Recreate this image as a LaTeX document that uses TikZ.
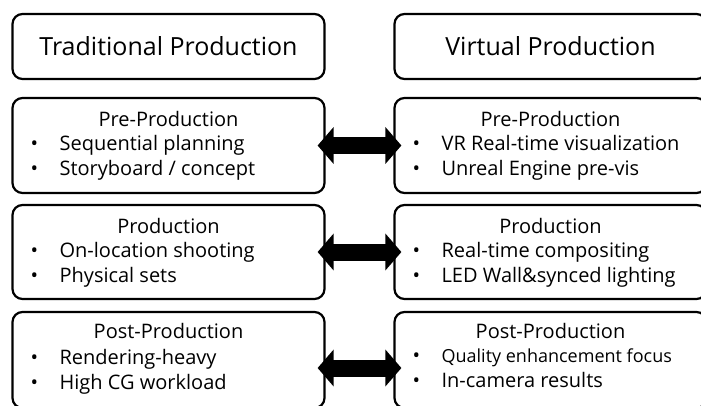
\documentclass[tikz,border=0pt]{standalone}
\usepackage{fontspec}
\setmainfont{Open Sans}
\usetikzlibrary{arrows.meta,positioning,calc}

\begin{document}
\begin{tikzpicture}[x=1pt, y=-1pt,
  box/.style={draw, line width=2.2pt, rounded corners=10pt, minimum width=312pt, inner sep=0pt},
  titletext/.style={font=\fontsize{25}{30}\selectfont},
  head/.style={anchor=base, inner sep=0pt, font=\fontsize{20}{24}\selectfont},
  item/.style={anchor=base west, inner sep=0pt, font=\fontsize{20}{24}\selectfont},
  dot/.style={anchor=base, inner sep=0pt, font=\fontsize{20}{24}\selectfont},
  dblarrow/.style={line width=17pt, {Triangle[width=36pt, length=16pt]}-{Triangle[width=36pt, length=16pt]},
    shorten <=-8pt, shorten >=-8pt}]
  \useasboundingbox (0,0) rectangle (701,405);
  % Titres
  \node[box, minimum height=65pt, titletext] (title-t) at (168.5,46.5) {Traditional Production};
  \node[box, minimum height=65pt, titletext] (title-v) at (550.5,46.5) {Virtual Production};
  % Cadres
  \node[box, minimum height=95pt] (pre-t) at (168.5,145.5) {};
  \node[box, minimum height=95pt] (pre-v) at (550.5,145.5) {};
  \node[box, minimum height=94pt] (prod-t) at (168.5,252) {};
  \node[box, minimum height=94pt] (prod-v) at (550.5,252) {};
  \node[box, minimum height=96pt] (post-t) at (168.5,360) {};
  \node[box, minimum height=96pt] (post-v) at (550.5,360) {};
  % En-tetes
  \node[head] (pre-t-h) at ([yshift=-30pt]pre-t.north) {Pre-Production};
  \node[head] (pre-v-h) at ([yshift=-30pt]pre-v.north) {Pre-Production};
  \node[head] (prod-t-h) at ([yshift=-30pt]prod-t.north) {Production};
  \node[head] (prod-v-h) at ([yshift=-30pt]prod-v.north) {Production};
  \node[head] (post-t-h) at ([yshift=-28pt]post-t.north) {Post-Production};
  \node[head] (post-v-h) at ([yshift=-28pt]post-v.north) {Post-Production};
  % Puces
  \foreach \b/\txt [count=\i] in {pre-t/Sequential planning, pre-t/{Storyboard / concept},
      prod-t/On-location shooting, prod-t/Physical sets,
      post-t/Rendering-heavy, post-t/High CG workload,
      pre-v/VR Real-time visualization, pre-v/Unreal Engine pre-vis,
      prod-v/Real-time compositing, prod-v/LED Wall\&synced lighting} {
    \pgfmathsetmacro{\dy}{isodd(\i) ? 54 : 79}
    \node[dot] (\b-d\i) at ([xshift=23pt, yshift=-\dy pt]\b.north west) {•};
    \node[item] (\b-i\i) at ([xshift=48pt, yshift=-\dy pt]\b.north west) {\txt};
  }
  \node[dot] (post-v-d1) at ([xshift=23pt, yshift=-52pt]post-v.north west) {•};
  \node[item, font=\fontsize{18}{22}\selectfont] (post-v-i1) at ([xshift=48pt, yshift=-52pt]post-v.north west) {Quality enhancement focus};
  \node[dot] (post-v-d2) at ([xshift=23pt, yshift=-77pt]post-v.north west) {•};
  \node[item] (post-v-i2) at ([xshift=48pt, yshift=-77pt]post-v.north west) {In-camera results};
  % Fleches
  \draw[dblarrow] (pre-t) -- (pre-v);
  \draw[dblarrow] (prod-t) -- (prod-v);
  \draw[dblarrow] ([yshift=-8pt]post-t.east) -- ([yshift=-8pt]post-v.west);
\end{tikzpicture}
\end{document}
